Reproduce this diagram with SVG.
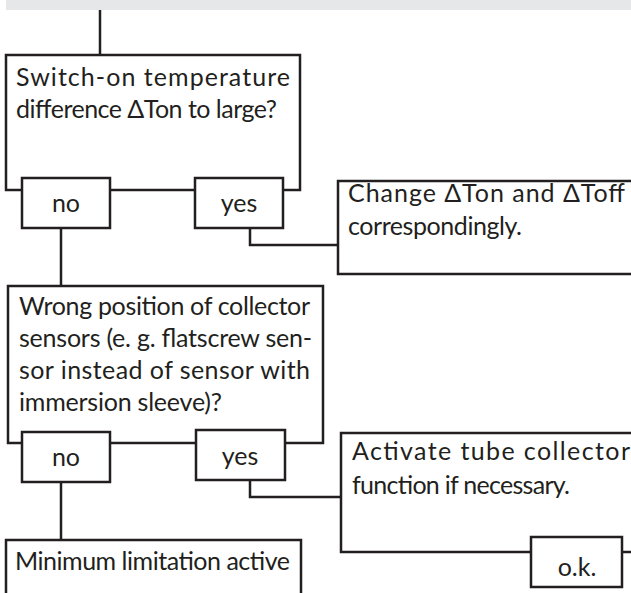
<svg xmlns="http://www.w3.org/2000/svg" width="631" height="593" viewBox="0 0 631 593">
<style>
.b{fill:#fff;stroke:#231f20;stroke-width:2.5}
.c{fill:none;stroke:#231f20;stroke-width:2.5}
text{font-family:"Lato","Open Sans","DejaVu Sans",sans-serif;font-size:25px;fill:#231f20}
.m{text-anchor:middle}
</style>
<rect x="6" y="0" width="625" height="10" fill="#e6e7e8"/>
<g id="connectors">
<path class="c" d="M100,10V55"/>
<path class="c" d="M61,228V286"/>
<path class="c" d="M250,228V245H338"/>
<path class="c" d="M61,482V540"/>
<path class="c" d="M250,480V497H341"/>
</g>
<g id="q1">
<rect class="b" x="6" y="55" width="294" height="135"/>
<text x="16" y="86" textLength="274" lengthAdjust="spacing">Switch-on temperature</text>
<text x="16" y="118" textLength="261" lengthAdjust="spacing">difference ΔTon to large?</text>
</g>
<g id="q1-no">
<rect class="b" x="22" y="178" width="88" height="50"/>
<text class="m" x="66" y="212">no</text>
</g>
<g id="q1-yes">
<rect class="b" x="195" y="178" width="88" height="50"/>
<text class="m" x="239" y="212">yes</text>
</g>
<g id="a1">
<path class="c" d="M640,181H338V274H640" fill="#fff"/>
<text x="348" y="202" textLength="277" lengthAdjust="spacing">Change ΔTon and ΔToff</text>
<text x="348" y="235" textLength="174" lengthAdjust="spacing">correspondingly.</text>
</g>
<g id="q2">
<rect class="b" x="8" y="286" width="315" height="157"/>
<text x="19" y="315" textLength="291" lengthAdjust="spacing">Wrong position of collector</text>
<text x="19" y="347" textLength="293" lengthAdjust="spacing">sensors (e. g. flatscrew sen-</text>
<text x="19" y="379" textLength="291" lengthAdjust="spacing">sor instead of sensor with</text>
<text x="19" y="411" textLength="203" lengthAdjust="spacing">immersion sleeve)?</text>
</g>
<g id="q2-no">
<rect class="b" x="22" y="432" width="88" height="50"/>
<text class="m" x="66" y="466">no</text>
</g>
<g id="q2-yes">
<rect class="b" x="196" y="430" width="89" height="50"/>
<text class="m" x="240" y="465">yes</text>
</g>
<g id="a2">
<path class="c" d="M640,433H341V552H531M622,552H640"/>
<text x="352" y="460" textLength="278" lengthAdjust="spacing">Activate tube collector</text>
<text x="352" y="494" textLength="218" lengthAdjust="spacing">function if necessary.</text>
</g>
<g id="ok">
<rect class="b" x="531" y="537" width="91" height="50"/>
<text class="m" x="577" y="576">o.k.</text>
</g>
<g id="q3">
<path class="c" d="M6,600V540H301V600"/>
<text x="15" y="570" textLength="275" lengthAdjust="spacing">Minimum limitation active</text>
</g>
</svg>
